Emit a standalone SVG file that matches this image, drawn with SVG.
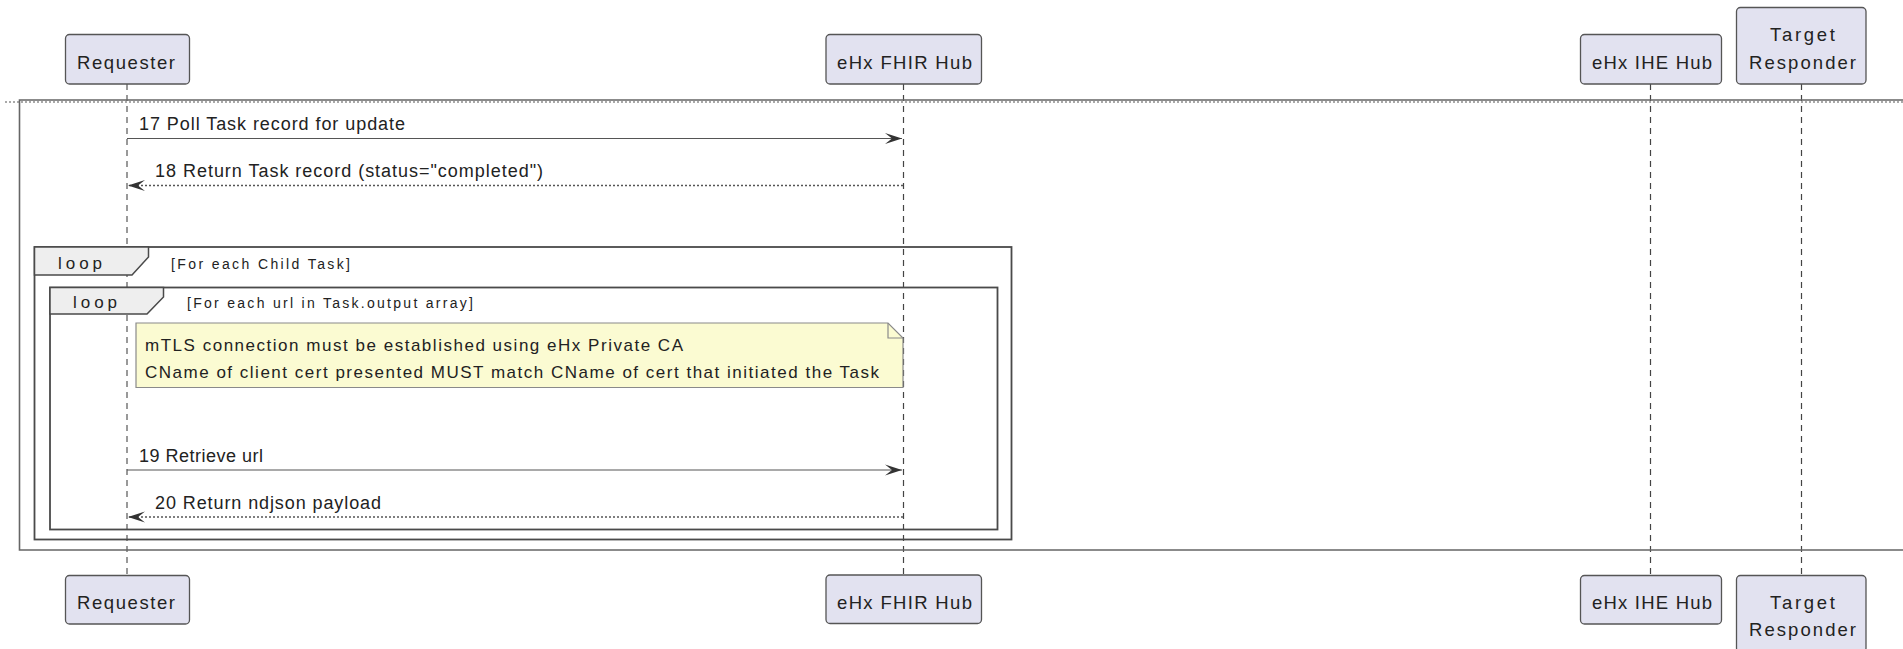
<svg xmlns="http://www.w3.org/2000/svg" width="1903" height="649" viewBox="0 0 1903 649">
<style>
.bg{fill:#ffffff}
.part rect{fill:#E2E2F0;stroke:#555555;stroke-width:1.3}
.part text{font-family:"Liberation Sans",Arial,sans-serif;font-size:18.5px;fill:#222222;text-anchor:middle}
.life{stroke:#444444;stroke-width:1.2;stroke-dasharray:6,5;fill:none}
.frame{fill:none;stroke:#4a4a4a;stroke-width:1.8}
.tab{fill:#EEEEEE;stroke:#4a4a4a;stroke-width:1.5}
.lbl{font-family:"Liberation Sans",Arial,sans-serif;font-size:17px;fill:#222222}
.guard{font-family:"Liberation Sans",Arial,sans-serif;font-size:14px;fill:#222222}
.msg{stroke:#555555;stroke-width:1.2;fill:none}
.ret{stroke:#555555;stroke-width:1.3;fill:none;stroke-dasharray:2,2}
.mtext{font-family:"Liberation Sans",Arial,sans-serif;font-size:18px;fill:#222222}
.note{fill:#FBFBD2;stroke:#8a8a8a;stroke-width:1.2}
.ntext{font-family:"Liberation Sans",Arial,sans-serif;font-size:17px;fill:#222222}
</style>
<defs>
<marker id="arr" markerWidth="18" markerHeight="14" refX="17" refY="6" orient="auto" markerUnits="userSpaceOnUse">
<polygon points="17,6 0,0.5 7,6 0,11.5" fill="#333333"/>
</marker>
</defs>
<rect class="bg" x="0" y="0" width="1903" height="649"/>

<g id="lifelines">
<line class="life" x1="127" y1="84" x2="127" y2="575" style="stroke:#999999;stroke-width:2"/>
<line class="life" x1="903.5" y1="84" x2="903.5" y2="575"/>
<line class="life" x1="1650.5" y1="84" x2="1650.5" y2="575"/>
<line class="life" x1="1801.5" y1="84" x2="1801.5" y2="575"/>
</g>

<g id="group-frame">
<line x1="5" y1="102" x2="1903" y2="102" stroke="#555555" stroke-width="1.2" stroke-dasharray="2,2"/>
<path class="frame" d="M1905,100 H19.5 V550 H1905" style="stroke:#666666;stroke-width:1.6"/>
</g>

<g id="loop-outer">
<rect class="frame" x="34.5" y="247" width="977" height="292.5"/>
<path class="tab" d="M34.5,247 H148.5 V257 L132,275 H34.5 Z"/>
<text class="lbl" x="58" y="269" textLength="44" lengthAdjust="spacing">loop</text>
<text class="guard" x="171" y="269" textLength="179" lengthAdjust="spacing">[For each Child Task]</text>
</g>
<g id="loop-inner">
<rect class="frame" x="50" y="287.5" width="947.5" height="242"/>
<path class="tab" d="M50,287.5 H163.5 V297 L147,314 H50 Z"/>
<text class="lbl" x="73" y="308" textLength="44" lengthAdjust="spacing">loop</text>
<text class="guard" x="187" y="308" textLength="286" lengthAdjust="spacing">[For each url in Task.output array]</text>
</g>

<g id="note">
<path class="note" d="M136,323 H888 L903,338 V387.5 H136 Z"/>
<path class="note" d="M888,323 V338 H903" style="fill:none"/>
<text class="ntext" x="145" y="351" textLength="538" lengthAdjust="spacing">mTLS connection must be established using eHx Private CA</text>
<text class="ntext" x="145" y="378" textLength="734" lengthAdjust="spacing">CName of client cert presented MUST match CName of cert that initiated the Task</text>
</g>

<g id="connectors">
<line class="msg" x1="127" y1="138.5" x2="902" y2="138.5" marker-end="url(#arr)"/>
<text class="mtext" x="139" y="130" textLength="266" lengthAdjust="spacing">17 Poll Task record for update</text>
<line class="ret" x1="903" y1="185.5" x2="128" y2="185.5" marker-end="url(#arr)"/>
<text class="mtext" x="155" y="177" textLength="388" lengthAdjust="spacing">18 Return Task record (status="completed")</text>
<line class="msg" x1="127" y1="470" x2="902" y2="470" marker-end="url(#arr)"/>
<text class="mtext" x="139" y="461.5" textLength="124" lengthAdjust="spacing">19 Retrieve url</text>
<line class="ret" x1="903" y1="517" x2="128" y2="517" marker-end="url(#arr)"/>
<text class="mtext" x="155" y="508.5" textLength="226" lengthAdjust="spacing">20 Return ndjson payload</text>
</g>

<g id="requester-top" class="part">
<rect x="65.5" y="34.5" width="124" height="49.5" rx="4"/>
<text x="126" y="68.5" textLength="98" lengthAdjust="spacing">Requester</text>
</g>
<g id="fhirhub-top" class="part">
<rect x="826" y="34.5" width="155.5" height="49.5" rx="4"/>
<text x="904.5" y="68.5" textLength="135" lengthAdjust="spacing">eHx FHIR Hub</text>
</g>
<g id="ihehub-top" class="part">
<rect x="1580.5" y="34.5" width="141" height="49.5" rx="4"/>
<text x="1652" y="68.5" textLength="120" lengthAdjust="spacing">eHx IHE Hub</text>
</g>
<g id="target-top" class="part">
<rect x="1736.5" y="7.5" width="129.5" height="76.5" rx="4"/>
<text x="1802.5" y="41" textLength="65" lengthAdjust="spacing">Target</text>
<text x="1802.5" y="68.5" textLength="107" lengthAdjust="spacing">Responder</text>
</g>

<g id="requester-bottom" class="part">
<rect x="65.5" y="575.5" width="124" height="48.5" rx="4"/>
<text x="126" y="608.5" textLength="98" lengthAdjust="spacing">Requester</text>
</g>
<g id="fhirhub-bottom" class="part">
<rect x="826" y="575" width="155.5" height="48.5" rx="4"/>
<text x="904.5" y="608.5" textLength="135" lengthAdjust="spacing">eHx FHIR Hub</text>
</g>
<g id="ihehub-bottom" class="part">
<rect x="1580.5" y="575.5" width="141" height="48.5" rx="4"/>
<text x="1652" y="608.5" textLength="120" lengthAdjust="spacing">eHx IHE Hub</text>
</g>
<g id="target-bottom" class="part">
<rect x="1736.5" y="575.5" width="129.5" height="76.5" rx="4"/>
<text x="1802.5" y="608.5" textLength="65" lengthAdjust="spacing">Target</text>
<text x="1802.5" y="636" textLength="107" lengthAdjust="spacing">Responder</text>
</g>
</svg>
